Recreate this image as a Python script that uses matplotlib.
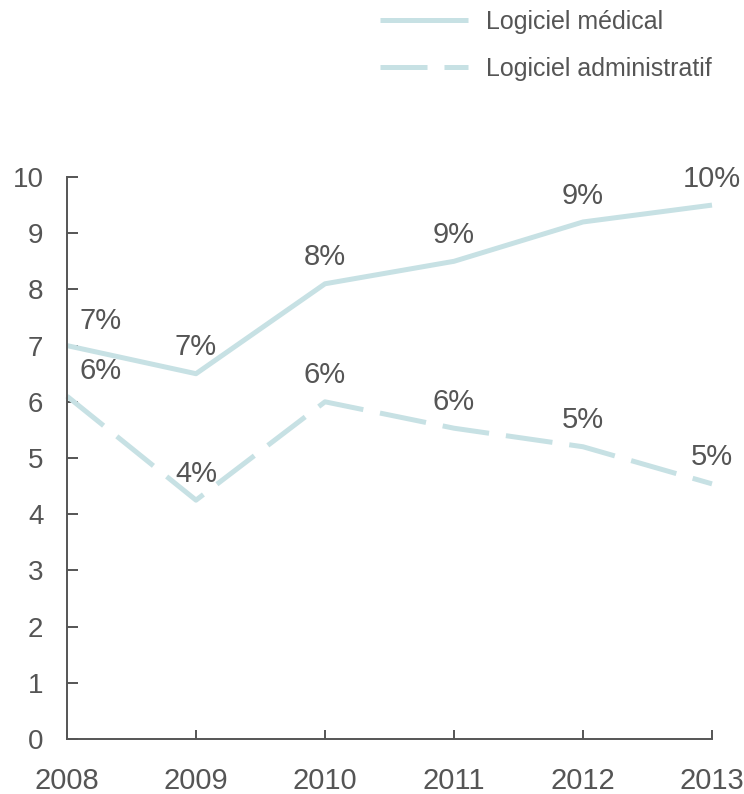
import matplotlib
matplotlib.use("Agg")
import matplotlib.pyplot as plt

plt.rcParams['font.family'] = ['Liberation Sans', 'DejaVu Sans']

years = [2008, 2009, 2010, 2011, 2012, 2013]
medical = [7.0, 6.5, 8.1, 8.5, 9.2, 9.5]
admin = [6.1, 4.25, 6.0, 5.53, 5.2, 4.54]
series_names = ["Logiciel médical", "Logiciel administratif"]

line_color = '#c7e1e4'
text_color = '#555555'

fig = plt.figure(figsize=(7.44, 7.94), dpi=100)
ax = fig.add_axes([67 / 744, 1 - 739 / 794, 645 / 744, 562 / 794])

ax.plot(years, medical, color=line_color, lw=3.6, solid_capstyle='butt',
        clip_on=False, label=series_names[0])
ax.plot(years, admin, color=line_color, lw=3.6, linestyle=(0, (9.4, 3.4)),
        dash_capstyle='butt', clip_on=False, label=series_names[1])


def pct(v):
    return "%d%%" % int(v + 0.5)


for vals in (medical, admin):
    for i, (x, v) in enumerate(zip(years, vals)):
        off = (24, 18) if i == 0 else (0, 19)
        ax.annotate(pct(v), (x, v), xytext=off, textcoords='offset points',
                    ha='center', va='center', fontsize=21, color=text_color)

ax.set_xlim(2008, 2013)
ax.set_ylim(0, 10)
ax.set_xticks(years)
ax.set_yticks(range(0, 11))

for side in ('top', 'right'):
    ax.spines[side].set_visible(False)
for side in ('left', 'bottom'):
    ax.spines[side].set_color(text_color)
    ax.spines[side].set_linewidth(1.4)

ax.tick_params(axis='y', direction='in', length=8, width=1.4, color=text_color,
               labelsize=20, labelcolor=text_color, pad=17)
ax.tick_params(axis='x', direction='in', length=6.5, width=1.4, color=text_color,
               labelsize=21, labelcolor=text_color, pad=20)

fig.legend(loc='upper left', bbox_to_anchor=(380 / 744, 1 - 10 / 794),
           frameon=False, fontsize=18, handlelength=3.5, handletextpad=0.75,
           labelspacing=0.92, borderpad=0, borderaxespad=0, labelcolor=text_color)

fig.savefig('out.png', dpi=100)
